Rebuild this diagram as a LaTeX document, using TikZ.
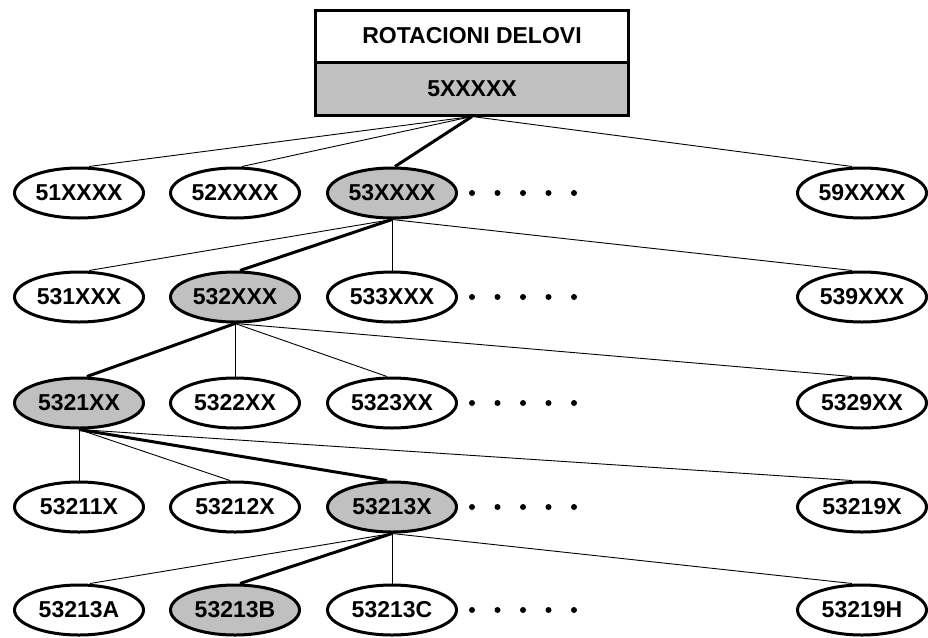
\documentclass[tikz,border=0pt]{standalone}
\usepackage{fontspec}
\setmainfont{Liberation Sans}
\usetikzlibrary{shapes.geometric}
\definecolor{nodegray}{RGB}{192,192,192}
\tikzset{
  oval/.style={ellipse, draw=black, line width=3pt, fill=white, minimum width=129pt, minimum height=50pt, inner sep=0pt,
    font=\fontsize{23}{27}\selectfont\bfseries},
  ovalsel/.style={oval, fill=nodegray},
  boxpart/.style={rectangle, draw=black, line width=3pt, minimum width=313pt, inner sep=0pt,
    font=\fontsize{23}{27}\selectfont\bfseries},
  thin/.style={line width=0.9pt},
  thick path/.style={line width=3pt},
  dot/.style={fill=black}
}
\begin{document}
\begin{tikzpicture}[x=1pt,y=-1pt]
\useasboundingbox (0,0) rectangle (928,637);
% header box
\node[boxpart, fill=white, minimum height=52pt] (title) at (472,36) {ROTACIONI DELOVI};
\node[boxpart, fill=nodegray, minimum height=53pt] (root) at (472,88.5) {5XXXXX};
% row 1
\node[oval] (n51) at (79,193) {51XXXX};
\node[oval] (n52) at (235,193) {52XXXX};
\node[ovalsel] (n53) at (392,193) {53XXXX};
\node[oval] (n59) at (862,193) {59XXXX};
% row 2
\node[oval] (n531) at (79,297) {531XXX};
\node[ovalsel] (n532) at (235,297) {532XXX};
\node[oval] (n533) at (392,297) {533XXX};
\node[oval] (n539) at (862,297) {539XXX};
% row 3
\node[ovalsel] (n5321) at (79,403) {5321XX};
\node[oval] (n5322) at (235,403) {5322XX};
\node[oval] (n5323) at (392,403) {5323XX};
\node[oval] (n5329) at (862,403) {5329XX};
% row 4
\node[oval] (n53211) at (79,507) {53211X};
\node[oval] (n53212) at (235,507) {53212X};
\node[ovalsel] (n53213) at (392,507) {53213X};
\node[oval] (n53219) at (862,507) {53219X};
% row 5
\node[oval] (n53213A) at (79,610) {53213A};
\node[ovalsel] (n53213B) at (235,610) {53213B};
\node[oval] (n53213C) at (392,610) {53213C};
\node[oval] (n53219H) at (862,610) {53219H};
% connectors
\draw[thin] (root.south) -- ([xshift=10pt]n51.north);
\draw[thin] (root.south) -- ([xshift=7pt]n52.north);
\draw[thick path] (root.south) -- ([xshift=3pt]n53.north);
\draw[thin] (root.south) -- ([xshift=-10pt]n59.north);

\draw[thin] (n53.south) -- ([xshift=10pt]n531.north);
\draw[thick path] (n53.south) -- ([xshift=5pt]n532.north);
\draw[thin] (n53.south) -- (n533.north);
\draw[thin] (n53.south) -- ([xshift=-10pt]n539.north);

\draw[thick path] (n532.south) -- ([xshift=8pt]n5321.north);
\draw[thin] (n532.south) -- (n5322.north);
\draw[thin] (n532.south) -- ([xshift=-5pt]n5323.north);
\draw[thin] (n532.south) -- ([xshift=-10pt]n5329.north);

\draw[thin] (n5321.south) -- (n53211.north);
\draw[thin] (n5321.south) -- ([xshift=-5pt]n53212.north);
\draw[thick path] (n5321.south) -- ([xshift=-5pt]n53213.north);
\draw[thin] (n5321.south) -- ([xshift=-10pt]n53219.north);

\draw[thin] (n53213.south) -- ([xshift=11pt]n53213A.north);
\draw[thick path] (n53213.south) -- ([xshift=5pt]n53213B.north);
\draw[thin] (n53213.south) -- (n53213C.north);
\draw[thin] (n53213.south) -- ([xshift=-10pt]n53219H.north);
% ellipsis dots
\foreach \y in {193,297,403,507,610}{
  \foreach \x in {472,497.5,523,548.5,574}{
    \fill[dot] (\x,\y) circle (3pt);
  }
}
\end{tikzpicture}
\end{document}
